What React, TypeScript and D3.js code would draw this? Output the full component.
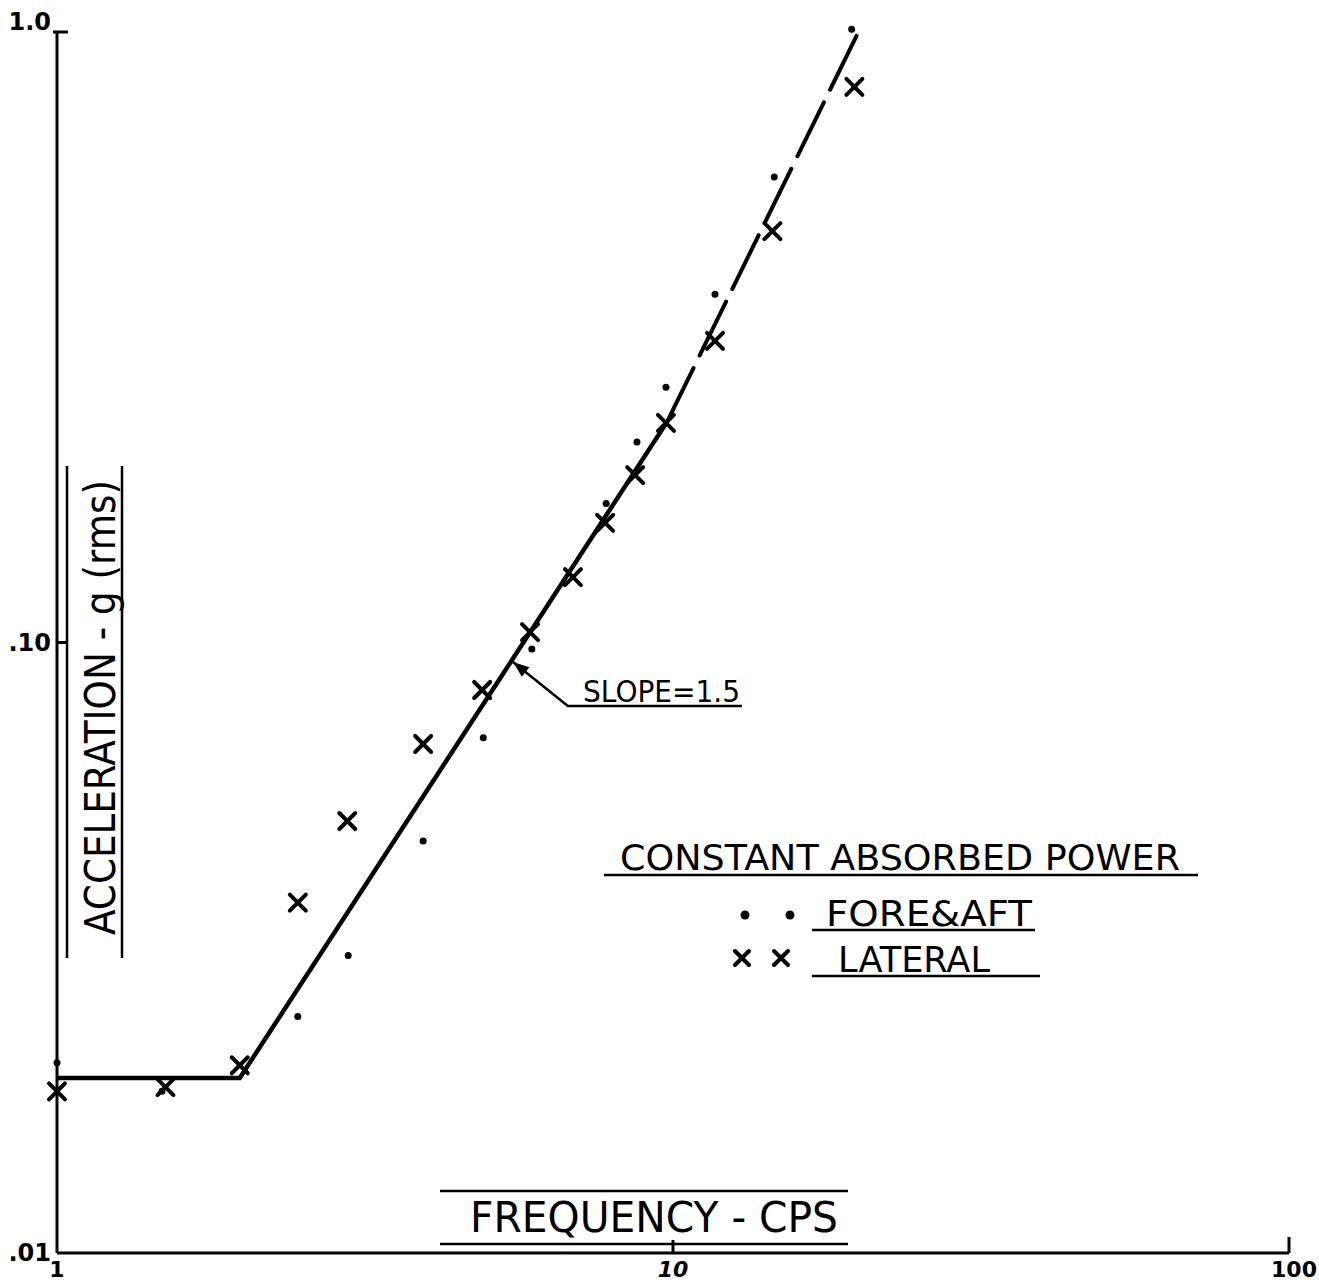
import React from "react";
import * as d3 from "d3";

// ---- data ----
const lateralFreq = [1.0, 1.5, 1.98, 2.46, 2.96, 3.93, 4.9, 5.86, 6.88, 7.76, 8.68, 9.74, 11.7, 14.5, 19.7];
const lateralAcc = [0.0184, 0.0187, 0.0203, 0.0375, 0.051, 0.0682, 0.0836, 0.104, 0.128, 0.157, 0.188, 0.229, 0.312, 0.472, 0.813];
const foreAftFreq = [1.0, 1.48, 2.46, 2.97, 3.93, 4.92, 5.9, 7.79, 8.74, 9.74, 11.7, 14.6, 19.5];
const foreAftAcc = [0.0205, 0.0184, 0.0244, 0.0307, 0.0473, 0.0698, 0.0976, 0.169, 0.213, 0.262, 0.372, 0.579, 1.01];
const solidFreq = [1.0, 1.98, 9.78];
const solidAcc = [0.01935, 0.01935, 0.2298];
const dashedFreq = [9.78, 20.0];
const dashedAcc = [0.2298, 1.0];
const slopeLeaderFreq = [5.5, 6.75, 12.94];
const slopeLeaderAcc = [0.0929, 0.0787, 0.0787];
const xTicks = [1, 10, 100];
const xTickLabels = ["1", "10", "100"];
const yTicks = [1.0, 0.1, 0.01];
const yTickLabels = ["1.0", ".10", ".01"];

const W = 1319;
const H = 1285;
const FONT = "'DejaVu Sans', sans-serif";

export default function App() {
  const x = d3.scaleLog().domain([1, 100]).range([57, 1289]);
  const y = d3.scaleLog().domain([0.01, 1]).range([1253, 32]);
  const line = d3
    .line<[number, number]>()
    .x((d) => x(d[0]))
    .y((d) => y(d[1]));
  const solid = line(solidFreq.map((f, i) => [f, solidAcc[i]]))!;
  const dashed = line(dashedFreq.map((f, i) => [f, dashedAcc[i]]))!;
  const leaderPts: [number, number][] = slopeLeaderFreq.map((f, i) => [x(f), y(slopeLeaderAcc[i])]);
  const tip = leaderPts[0];
  const elbow = leaderPts[1];
  const ang = Math.atan2(tip[1] - elbow[1], tip[0] - elbow[0]);
  const ah = 16;
  const aw = 6;
  const arrow = [
    [tip[0], tip[1]],
    [tip[0] - ah * Math.cos(ang) + aw * Math.sin(ang), tip[1] - ah * Math.sin(ang) - aw * Math.cos(ang)],
    [tip[0] - ah * Math.cos(ang) - aw * Math.sin(ang), tip[1] - ah * Math.sin(ang) + aw * Math.cos(ang)],
  ]
    .map((p) => p.join(","))
    .join(" ");

  const xMark = (cx: number, cy: number, s: number, key: string) => (
    <g key={key} stroke="#000" strokeWidth={4} strokeLinecap="round">
      <line x1={cx - s} y1={cy - s} x2={cx + s} y2={cy + s} />
      <line x1={cx - s} y1={cy + s} x2={cx + s} y2={cy - s} />
    </g>
  );

  return (
    <svg
      width={W}
      height={H}
      style={{ position: "absolute", left: 0, top: 0, background: "#fff" }}
      fontFamily={FONT}
    >
      <rect x={0} y={0} width={W} height={H} fill="#fff" />
      {/* axes */}
      <g stroke="#000" strokeWidth={3} fill="none">
        <line x1={x(1)} y1={y(1)} x2={x(1)} y2={y(0.01)} />
        <line x1={x(1)} y1={y(0.01)} x2={x(100)} y2={y(0.01)} />
        <line x1={x(1) - 4} y1={y(1)} x2={x(1) + 11} y2={y(1)} />
        <line x1={x(1)} y1={y(0.1)} x2={x(1) + 10} y2={y(0.1)} />
        <line x1={x(10)} y1={y(0.01)} x2={x(10)} y2={y(0.01) - 13} />
        <line x1={x(100)} y1={y(0.01)} x2={x(100)} y2={y(0.01) - 16} />
      </g>
      {/* tick labels */}
      {yTicks.map((t, i) => (
        <text
          key={"yl" + i}
          x={x(1) - 6}
          y={y(t) + (i === 0 ? -2 : 8)}
          textAnchor="end"
          fontSize={24}
          fontWeight="bold"
        >
          {yTickLabels[i]}
        </text>
      ))}
      {xTicks.map((t, i) => (
        <text
          key={"xl" + i}
          x={i === 2 ? 1317 : x(t)}
          y={1277}
          textAnchor={i === 2 ? "end" : "middle"}
          fontSize={22}
          fontWeight="bold"
          fontStyle={i === 1 ? "italic" : "normal"}
        >
          {xTickLabels[i]}
        </text>
      ))}
      {/* axis titles */}
      <g stroke="#000" strokeWidth={2.5}>
        <line x1={440} y1={1191} x2={848} y2={1191} />
        <line x1={440} y1={1244} x2={848} y2={1244} />
        <line x1={67} y1={466} x2={67} y2={958} />
        <line x1={122} y1={466} x2={122} y2={958} />
      </g>
      <text x={470} y={1232} fontSize={42} textLength={368} lengthAdjust="spacingAndGlyphs">
        FREQUENCY - CPS
      </text>
      <text
        transform="translate(115,935) rotate(-90)"
        x={0}
        y={0}
        fontSize={42}
        textLength={455}
        lengthAdjust="spacingAndGlyphs"
      >
        ACCELERATION - g (rms)
      </text>
      {/* fit lines */}
      <path d={solid} fill="none" stroke="#000" strokeWidth={4.5} strokeLinejoin="miter" />
      <path d={dashed} fill="none" stroke="#000" strokeWidth={4} strokeDasharray="60 14" strokeLinecap="round" />
      {/* data */}
      {foreAftFreq.map((f, i) => (
        <circle key={"fa" + i} cx={x(f)} cy={y(foreAftAcc[i])} r={3.5} fill="#000" />
      ))}
      {lateralFreq.map((f, i) => xMark(x(f), y(lateralAcc[i]), 8, "la" + i))}
      {/* slope annotation */}
      <polyline
        points={leaderPts.map((p) => p.join(",")).join(" ")}
        fill="none"
        stroke="#000"
        strokeWidth={2.5}
      />
      <polygon points={arrow} fill="#000" />
      <text x={583} y={702} fontSize={30} textLength={157} lengthAdjust="spacingAndGlyphs">
        SLOPE=1.5
      </text>
      {/* legend */}
      <text x={620} y={870} fontSize={36} textLength={560} lengthAdjust="spacingAndGlyphs">
        CONSTANT ABSORBED POWER
      </text>
      <line x1={604} y1={875} x2={1198} y2={875} stroke="#000" strokeWidth={2.5} />
      <circle cx={745} cy={915} r={4.5} fill="#000" />
      <circle cx={790} cy={915} r={4.5} fill="#000" />
      <text x={826} y={926} fontSize={36} textLength={206} lengthAdjust="spacingAndGlyphs">
        FORE&amp;AFT
      </text>
      <line x1={812} y1={930} x2={1035} y2={930} stroke="#000" strokeWidth={2.5} />
      {xMark(742, 958, 7, "lg1")}
      {xMark(781, 958, 7, "lg2")}
      <text x={838} y={972} fontSize={36} textLength={152} lengthAdjust="spacingAndGlyphs">
        LATERAL
      </text>
      <line x1={812} y1={976} x2={1040} y2={976} stroke="#000" strokeWidth={2.5} />
    </svg>
  );
}
